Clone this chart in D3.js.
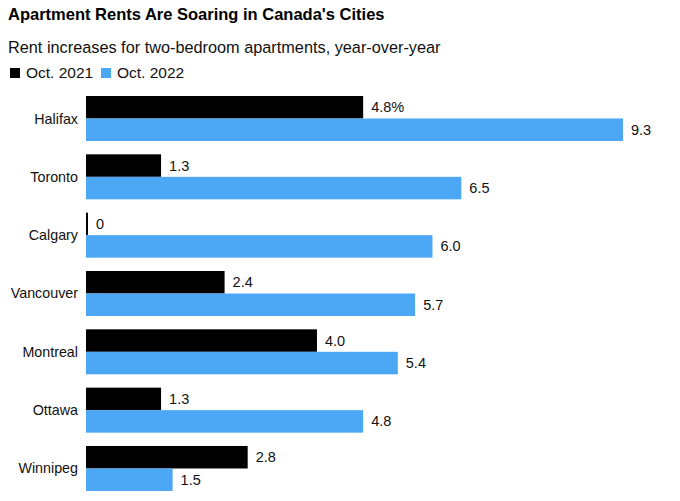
<html>
<head>
<script src="https://d3js.org/d3.v7.min.js"></script>
<style>
body { margin: 0; background: #fff; }
text { font-family: "Liberation Sans", Arial, sans-serif; }
</style>
</head>
<body>
<div id="chart"></div>
<script>
var cities = ["Halifax", "Toronto", "Calgary", "Vancouver", "Montreal", "Ottawa", "Winnipeg"];
var oct2021 = [4.8, 1.3, 0, 2.4, 4.0, 1.3, 2.8];
var oct2022 = [9.3, 6.5, 6.0, 5.7, 5.4, 4.8, 1.5];
var seriesNames = ["Oct. 2021", "Oct. 2022"];
var colors = ["#000000", "#4ca8f5"];

var width = 680, height = 501;
var svg = d3.select("#chart").append("svg")
    .attr("width", width)
    .attr("height", height);

svg.append("text")
    .attr("x", 8).attr("y", 20)
    .style("font-size", "16.5px").style("font-weight", "bold")
    .text("Apartment Rents Are Soaring in Canada's Cities");

svg.append("text")
    .attr("x", 8).attr("y", 53)
    .style("font-size", "16.3px").style("fill", "#111")
    .text("Rent increases for two-bedroom apartments, year-over-year");

// legend
var legendX = [10, 101];
seriesNames.forEach(function(n, i) {
  svg.append("rect")
    .attr("x", legendX[i]).attr("y", 68)
    .attr("width", 10).attr("height", 10)
    .style("fill", colors[i]);
  svg.append("text")
    .attr("x", legendX[i] + 16).attr("y", 78)
    .style("font-size", "15.5px").style("fill", "#111")
    .text(n);
});

var step = 58.33;
var x = d3.scaleLinear().domain([0, 9.3]).range([86, 623]);
var y = d3.scaleBand().domain(cities)
    .range([96 - 0.1143 * step, 96 + step * 7 - 0.1143 * step])
    .paddingInner(0.2286).paddingOuter(0.1143);
var barH = y.bandwidth() / 2;

var rows = cities.map(function(c, i) { return {city: c, vals: [oct2021[i], oct2022[i]]}; });

var g = svg.selectAll("g.city").data(rows).enter().append("g")
    .attr("class", "city")
    .attr("transform", function(d) { return "translate(0," + y(d.city) + ")"; });

g.append("text")
    .attr("x", 78).attr("y", barH)
    .attr("dy", "0.35em")
    .attr("text-anchor", "end")
    .style("font-size", "14.3px").style("fill", "#111")
    .text(function(d) { return d.city; });

[0, 1].forEach(function(s) {
  g.append("rect")
    .attr("x", x(0))
    .attr("y", s * barH)
    .attr("height", barH)
    .attr("width", function(d) { return Math.max(2, x(d.vals[s]) - x(0)); })
    .style("fill", colors[s]);
  g.append("text")
    .attr("x", function(d) { return Math.max(x(d.vals[s]), x(0) + 2) + 8; })
    .attr("y", s * barH + barH / 2)
    .attr("dy", "0.35em")
    .style("font-size", "14.5px").style("fill", "#111")
    .text(function(d, i) {
      var v = d.vals[s] === 0 ? "0" : d.vals[s].toFixed(1);
      return (i === 0 && s === 0) ? v + "%" : v;
    });
});
</script>
</body>
</html>
